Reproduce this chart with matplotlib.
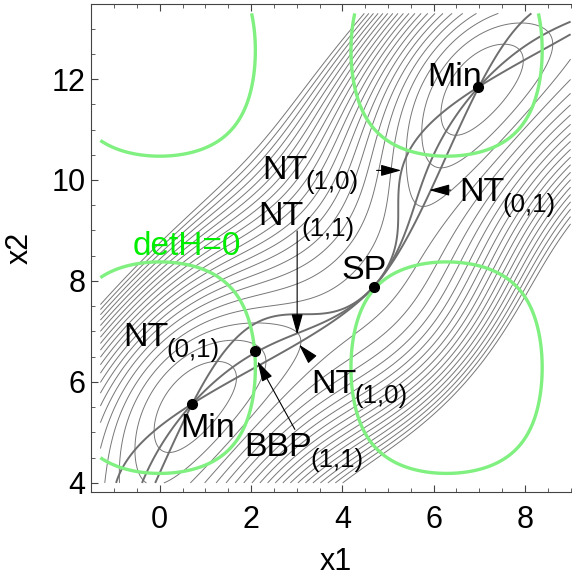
import numpy as np
import matplotlib
matplotlib.use('Agg')
import matplotlib.pyplot as plt

plt.rcParams['font.family'] = ['Liberation Sans', 'DejaVu Sans']

# model surface V = -cos x1 - cos x2 + (x1 - x2 + shift)^2 / 2
shift = 4.2
x_range = [-1.3, 9.0]
y_range = [4.0, 13.3]
levels = np.arange(-0.85, 10.2, 0.55)

# stationary points
min_x = [0.71, 6.98]
min_y = [5.57, 11.84]
sp_x = [4.69]
sp_y = [7.88]
bbp_x = [2.08]
bbp_y = [6.61]

# labels: text, subscript, x, y (left / baseline)
labels = [
    ("NT", "(1,0)", 2.25, 10.02),
    ("NT", "(1,1)", 2.15, 9.10),
    ("NT", "(0,1)", 6.57, 9.58),
    ("Min", "", 5.86, 11.87),
    ("SP", "", 3.98, 8.04),
    ("NT", "(0,1)", -0.81, 6.71),
    ("Min", "", 0.46, 4.90),
    ("BBP", "(1,1)", 1.86, 4.53),
    ("NT", "(1,0)", 3.32, 5.79),
]
# arrows: tail -> head
arrows = [
    ((4.75, 10.19), (5.29, 10.19)),
    ((6.37, 9.80), (5.90, 9.80)),
    ((3.01, 8.99), (3.01, 6.94)),
    ((3.31, 6.48), (3.05, 6.74)),
    ((2.96, 5.06), (2.14, 6.41)),
]

x = np.linspace(x_range[0], x_range[1], 700)
y = np.linspace(y_range[0], y_range[1], 700)
X, Y = np.meshgrid(x, y)
U = X - Y + shift
V = -np.cos(X) - np.cos(Y) + 0.5 * U**2
Vx = np.sin(X) + U
Vy = np.sin(Y) - U
detH = (np.cos(X) + 1) * (np.cos(Y) + 1) - 1

fig = plt.figure(figsize=(5.72, 5.79), dpi=100)
ax = fig.add_axes([91 / 572, 0.1497, 489 / 572, 0.8434])

ax.contour(X, Y, V, levels=levels, colors='#777777', linewidths=0.7,
           linestyles='solid')
for field in (Vx, Vy, Vx - Vy):
    ax.contour(X, Y, field, levels=[0], colors='#6e6e6e', linewidths=1.4)
ax.contour(X, Y, detH, levels=[0], colors='#80f080', linewidths=2.4)

ax.plot(min_x + sp_x + bbp_x, min_y + sp_y + bbp_y, 'o', color='black',
        markersize=7, zorder=5)

ax.set_xlim(-1.506, 9.206)
ax.set_ylim(3.814, 13.486)

renderer = fig.canvas.get_renderer()
for main, sub, tx, ty in labels:
    t = ax.text(tx, ty, main, fontsize=24.5, ha='left', va='baseline', zorder=6)
    if sub:
        w = t.get_window_extent(renderer=renderer).width * 72 / fig.dpi
        ax.annotate(sub, xy=(tx, ty), xytext=(w - 1.5, -7.5),
                    textcoords='offset points', fontsize=18.5,
                    ha='left', va='baseline', zorder=6)
ax.text(-0.60, 8.52, "detH=0", fontsize=24, color='#00ee00',
        ha='left', va='baseline', zorder=6)

for tail, head in arrows:
    ax.annotate('', xy=head, xytext=tail,
                arrowprops=dict(arrowstyle='-|>,head_length=0.9,head_width=0.25',
                                color='black', lw=0.8, shrinkA=0, shrinkB=0,
                                mutation_scale=14), zorder=6)

ax.set_xticks([0, 2, 4, 6, 8])
ax.set_yticks([4, 6, 8, 10, 12])
ax.set_xticks(np.arange(-1.5, 9.3, 0.5), minor=True)
ax.set_yticks(np.arange(4.0, 13.5, 0.5), minor=True)
ax.tick_params(which='both', direction='in', top=True, right=True,
               color='#444444', labelsize=22)
ax.tick_params(which='major', length=5)
ax.tick_params(which='minor', length=3)
ax.tick_params(axis='x', pad=9)
ax.tick_params(axis='y', pad=4)
for s in ax.spines.values():
    s.set_color('#444444')
ax.set_xlabel('x1', fontsize=22, labelpad=9)
ax.set_ylabel('x2', fontsize=22, labelpad=12)

fig.savefig('out.png', dpi=100)
